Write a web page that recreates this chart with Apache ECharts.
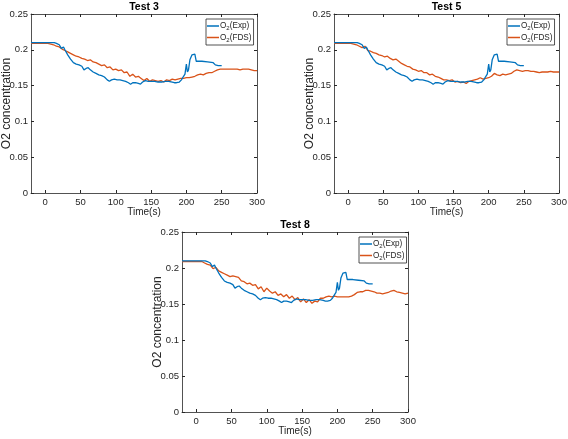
<!DOCTYPE html>
<html><head><meta charset="utf-8">
<script src="https://cdn.jsdelivr.net/npm/echarts@6/dist/echarts.min.js"></script>
<style>html,body{margin:0;padding:0;background:#fff}#c{width:568px;height:439px}</style>
</head><body><div id="c"></div>
<script>
const panelTitles = ['Test 3', 'Test 5', 'Test 8'];
const xTicks = [0, 50, 100, 150, 200, 250, 300];
const seriesNames = ['O2(Exp)', 'O2(FDS)'];

const expTime = [-20, 13, 16, 20, 23, 26, 28, 32, 36, 40, 44, 48, 52, 55, 58, 61, 64, 68, 72, 76, 80, 84, 88, 91, 94, 98, 102, 106, 110, 114, 118, 121, 124, 128, 132, 135, 138, 142, 146, 150, 155, 160, 165, 170, 175, 180, 183, 186, 190, 193, 196, 198, 200, 201.5, 203, 205, 208, 212, 214, 216, 222, 230, 238, 241, 245, 250];
const expO2 = [0.210, 0.210, 0.209, 0.207, 0.202, 0.204, 0.200, 0.193, 0.187, 0.182, 0.180, 0.179, 0.177, 0.172, 0.174, 0.175, 0.172, 0.169, 0.167, 0.165, 0.164, 0.162, 0.158, 0.156, 0.158, 0.159, 0.158, 0.158, 0.157, 0.156, 0.154, 0.152, 0.154, 0.154, 0.153, 0.152, 0.155, 0.157, 0.156, 0.156, 0.156, 0.155, 0.155, 0.156, 0.156, 0.155, 0.154, 0.154, 0.155, 0.158, 0.163, 0.166, 0.180, 0.169, 0.172, 0.186, 0.193, 0.194, 0.184, 0.183, 0.184, 0.183, 0.182, 0.179, 0.178, 0.178];

const fdsTime = [-20, 0, 4, 8, 12, 16, 20, 24, 28, 32, 36, 40, 44, 48, 52, 56, 60, 64, 68, 72, 76, 80, 84, 88, 92, 96, 100, 104, 108, 112, 116, 120, 124, 128, 132, 136, 140, 144, 148, 152, 156, 160, 164, 168, 172, 176, 180, 184, 188, 192, 196, 200, 204, 208, 212, 216, 220, 224, 228, 232, 236, 240, 244, 248, 252, 256, 260, 264, 268, 272, 276, 280, 284, 288, 292, 296, 300];

const fdsTest3 = [0.209, 0.209, 0.209, 0.208, 0.207, 0.205, 0.204, 0.201, 0.199, 0.197, 0.195, 0.193, 0.191, 0.190, 0.188, 0.187, 0.185, 0.186, 0.183, 0.182, 0.180, 0.178, 0.179, 0.175, 0.176, 0.172, 0.173, 0.171, 0.172, 0.168, 0.169, 0.163, 0.166, 0.162, 0.163, 0.160, 0.157, 0.160, 0.156, 0.158, 0.157, 0.156, 0.157, 0.155, 0.158, 0.157, 0.159, 0.158, 0.159, 0.160, 0.160, 0.161, 0.161, 0.162, 0.163, 0.165, 0.166, 0.165, 0.167, 0.168, 0.168, 0.170, 0.172, 0.173, 0.173, 0.173, 0.173, 0.173, 0.173, 0.173, 0.172, 0.173, 0.173, 0.173, 0.172, 0.171, 0.171];

const fdsTest5 = [0.209, 0.209, 0.209, 0.208, 0.207, 0.205, 0.203, 0.205, 0.199, 0.198, 0.196, 0.195, 0.193, 0.192, 0.190, 0.191, 0.188, 0.186, 0.187, 0.184, 0.181, 0.179, 0.177, 0.176, 0.173, 0.172, 0.170, 0.171, 0.168, 0.168, 0.165, 0.166, 0.163, 0.162, 0.160, 0.158, 0.158, 0.157, 0.158, 0.155, 0.156, 0.154, 0.155, 0.153, 0.156, 0.157, 0.158, 0.159, 0.161, 0.159, 0.160, 0.161, 0.163, 0.167, 0.165, 0.164, 0.166, 0.165, 0.166, 0.167, 0.170, 0.172, 0.171, 0.170, 0.171, 0.171, 0.170, 0.170, 0.169, 0.168, 0.169, 0.169, 0.169, 0.170, 0.169, 0.169, 0.169];

const fdsTest8 = [0.209, 0.209, 0.209, 0.209, 0.207, 0.205, 0.204, 0.199, 0.201, 0.196, 0.194, 0.192, 0.190, 0.188, 0.189, 0.188, 0.187, 0.182, 0.181, 0.178, 0.179, 0.176, 0.177, 0.171, 0.174, 0.167, 0.172, 0.168, 0.165, 0.167, 0.162, 0.164, 0.160, 0.163, 0.158, 0.161, 0.156, 0.159, 0.153, 0.157, 0.152, 0.156, 0.151, 0.154, 0.153, 0.158, 0.158, 0.160, 0.161, 0.160, 0.161, 0.160, 0.160, 0.160, 0.160, 0.160, 0.161, 0.163, 0.166, 0.167, 0.167, 0.169, 0.169, 0.168, 0.167, 0.165, 0.165, 0.164, 0.165, 0.166, 0.168, 0.169, 0.167, 0.166, 0.165, 0.164, 0.165];

const fdsByPanel = [fdsTest3, fdsTest5, fdsTest8];

const grids = [
  {left: 31, top: 14, width: 226, height: 179},
  {left: 334, top: 14, width: 225, height: 179},
  {left: 182, top: 232, width: 226, height: 180}
];
const legendBoxes = [
  {left: 206, top: 19},
  {left: 507, top: 19},
  {left: 359, top: 237}
];

const AX = '#262626';
const FONT = 'Liberation Sans, Arial, sans-serif';
const pair = (xs, ys) => xs.map((x, i) => [x, ys[i]]);

const option = {
  animation: false,
  backgroundColor: '#fff',
  title: [], grid: [], xAxis: [], yAxis: [], legend: [], series: []
};

grids.forEach((g, p) => {
  option.grid.push(Object.assign({show: false, containLabel: false, outerBoundsMode: 'none'}, g));
  option.title.push({
    text: panelTitles[p], padding: 0,
    left: g.left + g.width / 2, top: g.top - 12, textAlign: 'center',
    textStyle: {fontFamily: FONT, fontSize: 10.5, fontWeight: 'bold', color: '#000'}
  });
  const baseX = {
    type: 'value', gridIndex: p, min: -20, max: 300,
    axisLine: {show: true, onZero: false, lineStyle: {color: AX, width: 0.8}},
    splitLine: {show: false}
  };
  option.xAxis.push(Object.assign({}, baseX, {
    position: 'bottom',
    name: 'Time(s)', nameLocation: 'middle', nameGap: 14, nameMoveOverlap: false,
    nameTextStyle: {fontFamily: FONT, fontSize: 10, color: AX},
    axisTick: {show: true, inside: true, length: 3, customValues: xTicks, lineStyle: {color: AX}},
    axisLabel: {show: true, customValues: xTicks, margin: 4, fontFamily: FONT, fontSize: 9.5, color: AX}
  }));
  option.xAxis.push(Object.assign({}, baseX, {
    position: 'top',
    axisTick: {show: true, inside: true, length: 3, customValues: xTicks, lineStyle: {color: AX}},
    axisLabel: {show: false}
  }));
  const baseY = {
    type: 'value', gridIndex: p, min: 0, max: 0.25, interval: 0.05,
    axisLine: {show: true, onZero: false, lineStyle: {color: AX, width: 0.8}},
    splitLine: {show: false}
  };
  option.yAxis.push(Object.assign({}, baseY, {
    position: 'left',
    name: 'O2 concentration', nameLocation: 'middle', nameGap: 18.5, nameRotate: 90, nameMoveOverlap: false,
    nameTextStyle: {fontFamily: FONT, fontSize: 12, color: AX},
    axisTick: {show: true, inside: true, length: 3, lineStyle: {color: AX}},
    axisLabel: {show: true, margin: 3, fontFamily: FONT, fontSize: 9.5, color: AX}
  }));
  option.yAxis.push(Object.assign({}, baseY, {
    position: 'right',
    axisTick: {show: true, inside: true, length: 3, lineStyle: {color: AX}},
    axisLabel: {show: false}
  }));
  option.series.push({
    name: seriesNames[0], type: 'line', xAxisIndex: 2 * p, yAxisIndex: 2 * p,
    data: pair(expTime, expO2), symbol: 'none', smooth: false,
    lineStyle: {color: '#0072BD', width: 1.3}, itemStyle: {color: '#0072BD'}, z: 3
  });
  option.series.push({
    name: seriesNames[1], type: 'line', xAxisIndex: 2 * p, yAxisIndex: 2 * p,
    data: pair(fdsTime, fdsByPanel[p]), symbol: 'none', smooth: false,
    lineStyle: {color: '#D95319', width: 1.3}, itemStyle: {color: '#D95319'}, z: 2
  });
  option.legend.push({
    left: legendBoxes[p].left, top: legendBoxes[p].top,
    orient: 'vertical', data: seriesNames, selectedMode: false,
    icon: 'rect', itemWidth: 12, itemHeight: 1.5,
    backgroundColor: '#fff', borderColor: AX, borderWidth: 0.8,
    padding: [3, 2, 2, 1], itemGap: 2,
    formatter: name => '{n|O}{s|2}{n|' + name.slice(2) + '}',
    textStyle: {
      fontFamily: FONT, color: AX, padding: [0, 0, 0, -4],
      rich: {
        n: {fontSize: 8.2, fontFamily: FONT, color: AX},
        s: {fontSize: 6, fontFamily: FONT, color: AX, verticalAlign: 'bottom', padding: [5, 0, 0, 0]}
      }
    }
  });
});

const chart = echarts.init(document.getElementById('c'), null, {renderer: 'canvas'});
chart.setOption(option);
</script>
</body></html>
